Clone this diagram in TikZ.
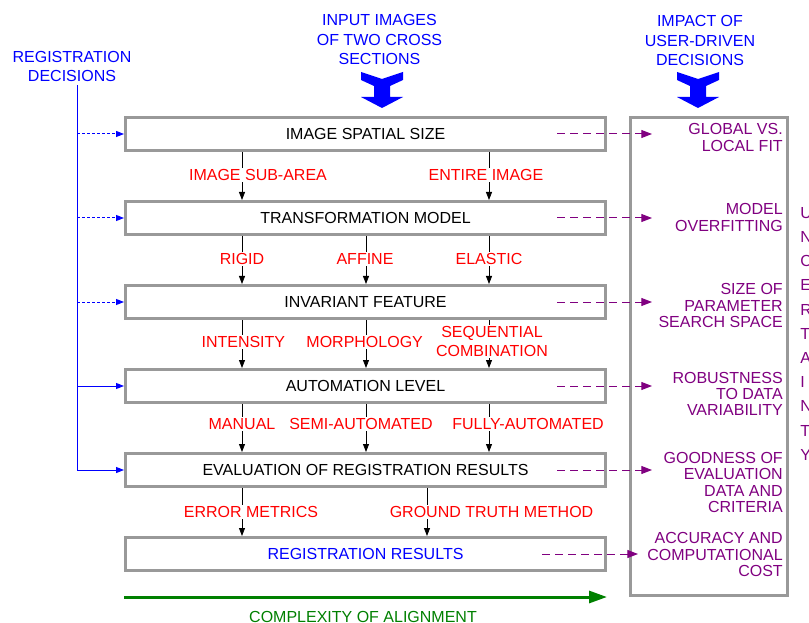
\documentclass[tikz,border=0pt]{standalone}
\usepackage{fontspec}
\setmainfont{Liberation Sans}
\usetikzlibrary{arrows.meta}
\usepackage{xcolor}
\definecolor{boxgray}{RGB}{153,153,153}
\definecolor{tradeoff}{RGB}{128,0,128}
\definecolor{alignment}{RGB}{0,128,0}

\begin{document}
\begin{tikzpicture}[x=0.75pt, y=-0.75pt, font=\fontsize{12}{14}\selectfont,
        stage/.style={draw=boxgray, line width=2.25pt, fill=white, minimum width=360pt,
            minimum height=24.75pt, inner sep=0pt},
        choice/.style={-{Triangle[length=6pt,width=4.5pt]}, line width=0.6pt},
        option/.style={fill=white, text=red, inner sep=1pt, align=center,
            font=\fontsize{12}{14.25}\selectfont},
        decide/.style={-{Triangle[length=6pt,width=4.5pt]}, draw=blue, line width=0.75pt},
        impact/.style={-{Triangle[length=8pt,width=6pt]}, draw=tradeoff, line width=0.75pt,
            dash pattern=on 6pt off 3.75pt},
        effect/.style={anchor=east, align=right, text=tradeoff, inner sep=0pt,
            font=\fontsize{12}{12.2}\selectfont},
        header/.style={align=center, text=blue, inner sep=0pt, font=\fontsize{12}{14.5}\selectfont},
        fatarrow/.pic={\fill[blue] (-21,0) -- (0,7) -- (21,0) -- (21,8) -- (8,14) -- (8,25)
            -- (21,25) -- (0,36) -- (-21,25) -- (-8,25) -- (-8,14) -- (-21,8) -- cycle;}]

        \useasboundingbox (0,0) rectangle (809,623);

        % --- Headers ---
        \node[header] (regdec) at (72,66.5) {REGISTRATION\\DECISIONS};
        \node[header] (input)  at (379.5,39.5) {INPUT IMAGES\\OF TWO CROSS\\SECTIONS};
        \node[header] (impacthead) at (700,40.5) {IMPACT OF\\USER-DRIVEN\\DECISIONS};
        \pic at (382,72) {fatarrow};
        \pic at (698,72) {fatarrow};

        % --- Decision stages ---
        \node[stage] (size)    at (365.5,134) {IMAGE SPATIAL SIZE};
        \node[stage] (model)   at (365.5,218) {TRANSFORMATION MODEL};
        \node[stage] (feature) at (365.5,302) {INVARIANT FEATURE};
        \node[stage] (level)   at (365.5,386) {AUTOMATION LEVEL};
        \node[stage] (eval)    at (365.5,470) {EVALUATION OF REGISTRATION RESULTS};
        \node[stage, text=blue] (result) at (365.5,554) {REGISTRATION RESULTS};

        \node[draw=boxgray, line width=2.25pt, minimum width=117.75pt, minimum height=358.5pt,
            inner sep=0pt] (panel) at (708.5,356.5) {};

        % --- Options between stages ---
        \coordinate (cl) at (242,0);
        \coordinate (cm) at (366,0);
        \coordinate (cr) at (489,0);
        \coordinate (cg) at (427,0);

        \draw[choice] (size.south -| cl) -- node[option, pos=0.48, xshift=12pt] {IMAGE SUB-AREA} (model.north -| cl);
        \draw[choice] (size.south -| cr) -- node[option, pos=0.48, xshift=-2.25pt] {ENTIRE IMAGE} (model.north -| cr);

        \draw[choice] (model.south -| cl) -- node[option, pos=0.48] {RIGID} (feature.north -| cl);
        \draw[choice] (model.south -| cm) -- node[option, pos=0.48, xshift=-0.75pt] {AFFINE} (feature.north -| cm);
        \draw[choice] (model.south -| cr) -- node[option, pos=0.48] {ELASTIC} (feature.north -| cr);

        \draw[choice] (feature.south -| cl) -- node[option, pos=0.46, xshift=1pt] {INTENSITY} (level.north -| cl);
        \draw[choice] (feature.south -| cm) -- node[option, pos=0.46, xshift=-1pt] {MORPHOLOGY} (level.north -| cm);
        \draw[choice] (feature.south -| cr) -- node[option, pos=0.44, xshift=2.25pt] {SEQUENTIAL\\COMBINATION} (level.north -| cr);

        \draw[choice] (level.south -| cl) -- node[option, pos=0.41] {MANUAL} (eval.north -| cl);
        \draw[choice] (level.south -| cm) -- node[option, pos=0.41, xshift=-3.75pt] {SEMI-AUTOMATED} (eval.north -| cm);
        \draw[choice] (level.south -| cr) -- node[option, pos=0.41, xshift=29.25pt] {FULLY-AUTOMATED} (eval.north -| cr);

        \draw[choice] (eval.south -| cl) -- node[option, pos=0.49, xshift=6.75pt] {ERROR METRICS} (result.north -| cl);
        \draw[choice] (eval.south -| cg) -- node[option, pos=0.49, xshift=48.4pt] {GROUND TRUTH METHOD} (result.north -| cg);

        % --- Registration decisions ---
        \coordinate (spine) at (77,470);
        \draw[blue, line width=0.75pt] ([yshift=-2.25pt]regdec.south -| spine) -- (spine);
        \draw[decide, dash pattern=on 2.25pt off 1.5pt] (size.west -| spine) -- (size.west);
        \draw[decide, dash pattern=on 2.25pt off 1.5pt] (model.west -| spine) -- (model.west);
        \draw[decide, dash pattern=on 2.25pt off 1.5pt] (feature.west -| spine) -- (feature.west);
        \draw[decide] (level.west -| spine) -- (level.west);
        \draw[decide] (spine) -- (eval.west);

        % --- Impact of decisions ---
        \coordinate (tip) at (652,0);
        \coordinate (tiplast) at (638,0);
        \draw[impact] ([xshift=-37.5pt]size.east) -- (size.east -| tip);
        \draw[impact] ([xshift=-37.5pt]model.east) -- (model.east -| tip);
        \draw[impact] ([xshift=-37.5pt]feature.east) -- (feature.east -| tip);
        \draw[impact] ([xshift=-37.5pt]level.east) -- (level.east -| tip);
        \draw[impact] ([xshift=-37.5pt]eval.east) -- (eval.east -| tip);
        \draw[impact] ([xshift=-48.75pt]result.east) -- (result.east -| tiplast);

        \node[effect] (fit)    at (783,137.5) {GLOBAL VS.\\LOCAL FIT};
        \node[effect] (over)   at (783,217.5) {MODEL\\OVERFITTING};
        \node[effect] (search) at (783,305.5) {SIZE OF\\PARAMETER\\SEARCH SPACE};
        \node[effect] (robust) at (783,394) {ROBUSTNESS\\TO DATA\\VARIABILITY};
        \node[effect] (good)   at (783,482.5) {GOODNESS OF\\EVALUATION\\DATA AND\\CRITERIA};
        \node[effect] (cost)   at (783,554.5) {ACCURACY AND\\COMPUTATIONAL\\COST};

        \node[anchor=north west, align=left, text=tradeoff, inner sep=0pt,
            font=\fontsize{12}{18.15}\selectfont] (uncert) at (800,207)
            {U\\N\\C\\E\\R\\T\\A\\I\\N\\T\\Y};

        % --- Complexity ---
        \coordinate (axis) at (0,597);
        \draw[-{Triangle[length=13.5pt,width=9pt]}, draw=alignment, fill=alignment, line width=2.25pt]
            (result.south west |- axis) -- (result.south east |- axis);
        \node[text=alignment] (complex) at (363,616.5) {COMPLEXITY OF ALIGNMENT};

    \end{tikzpicture}
\end{document}
